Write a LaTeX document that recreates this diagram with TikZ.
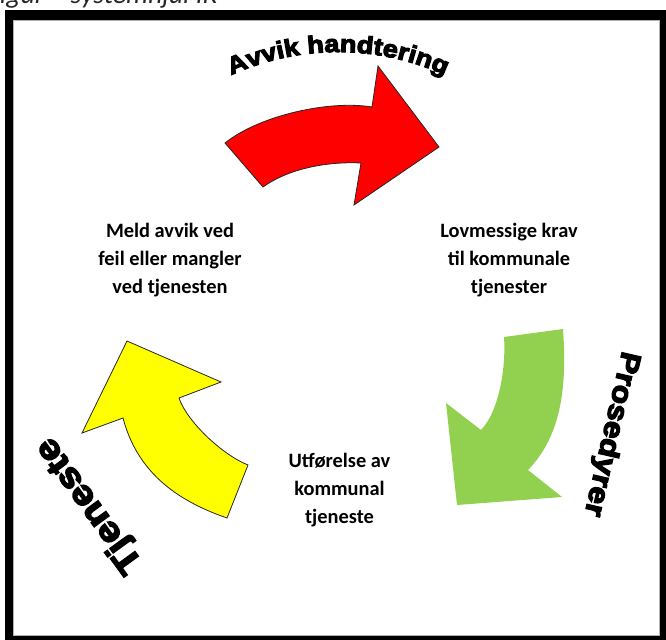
\documentclass[tikz,border=0pt]{standalone}
\usepackage{fontspec}
\setmainfont{Carlito}
\newfontfamily\wafont[FakeStretch=1.12,BoldFeatures={FakeBold=4.5}]{Liberation Sans}
\usetikzlibrary{decorations.text}
\definecolor{arrowred}{HTML}{FF0000}
\definecolor{arrowgreen}{HTML}{92D050}
\definecolor{arrowyellow}{HTML}{FFFF00}
\newcommand\avvikfont{\wafont\bfseries\fontsize{18.2}{20}\selectfont}
\begin{document}
\begin{tikzpicture}[x=0.75pt,y=0.75pt,
  arrowshape/.style={line width=0.6pt, draw=black!85, line join=miter},
  bodytext/.style={font=\bfseries\fontsize{15.3}{21}\selectfont, align=center, text=black, inner sep=0pt},
  wordart/.style={font=\wafont\bfseries\fontsize{#1}{#1}\selectfont, inner sep=0pt, text=black},
  arclabel/.style={decorate, decoration={text along path, text align=center, text={#1}}}
]
\useasboundingbox (0,0) rectangle (666,-639);
% caption (cropped at the top of the page)
\node[anchor=base west, font=\itshape\fontsize{20.8}{22}\selectfont, text=black!85, inner sep=0pt] (cap) at (-13,-3.5) {Figur – systemhjul IK};
% frame
\fill[black, even odd rule] (5,-10) rectangle (672,-645) (13,-20) rectangle (659.5,-635.5);
\draw[gray!60, line width=0.6pt] (13.3,-20.3) rectangle (659.2,-635.2);
% red arrow (top)
\filldraw[arrowshape, fill=arrowred]
  (225,-143) -- (263,-187)
  .. controls (291,-167) and (331,-161.5) .. (361,-163)
  -- (354,-205) -- (439,-147) -- (378,-66) -- (372,-107)
  .. controls (330,-100) and (260,-115) .. (225,-143) -- cycle;
% green arrow (right)
\fill[arrowgreen]
  (504,-337) -- (563,-329)
  .. controls (567,-385) and (562,-435) .. (528,-470)
  -- (562,-497) -- (457,-505) -- (446,-403) -- (481,-430)
  .. controls (500,-410) and (506,-365) .. (504,-337) -- cycle;
% yellow arrow (left)
\filldraw[arrowshape, fill=arrowyellow]
  (127,-341) -- (221,-382) -- (179,-398)
  .. controls (187,-421.5) and (222,-454.6) .. (248,-465)
  -- (227,-518)
  .. controls (175,-500) and (137,-471) .. (123,-418)
  -- (82,-433) -- cycle;
% labels
\path[arclabel={|\avvikfont|Avvik handtering}] (338,-310) ++(120:258) arc[start angle=120, end angle=60, radius=258];
\node[wordart=21.3, rotate=-103] (pros) at (610.7,-434) {Prosedyrer};
\node[wordart=26, rotate=126] (tjen) at (90,-505) {Tjeneste};
% text blocks
\node[bodytext] (meld) at (170,-260) {Meld avvik ved\\feil eller mangler\\ved tjenesten};
\node[bodytext] (lov) at (509,-260) {Lovmessige krav\\til kommunale\\tjenester};
\node[bodytext] (utf) at (339.5,-490) {Utførelse av\\kommunal\\tjeneste};
\end{tikzpicture}
\end{document}
